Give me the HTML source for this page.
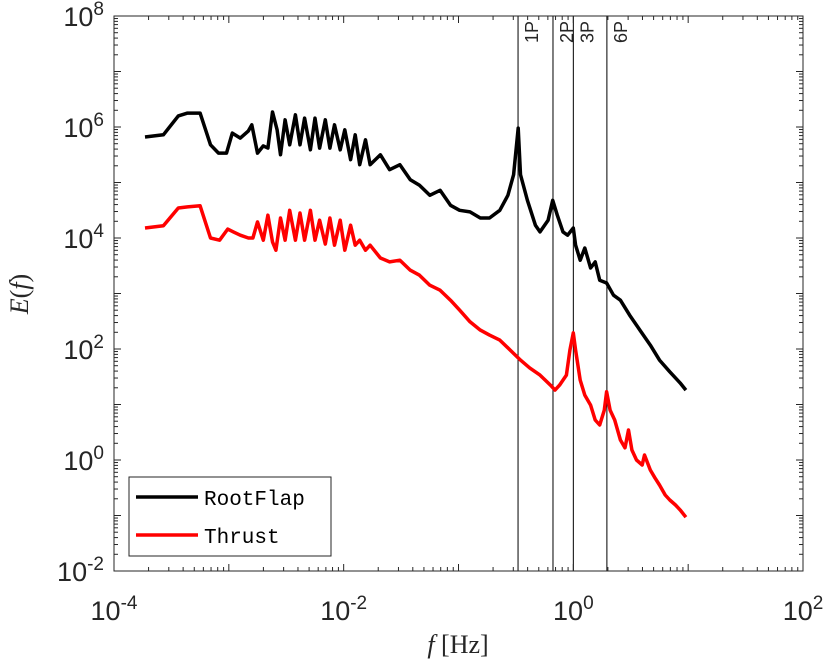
<!DOCTYPE html>
<html><head><meta charset="utf-8"><style>
body{margin:0;background:#fff;}
svg text{font-family:"Liberation Sans",sans-serif;fill:#262626;}
</style></head><body>
<svg id="chart" width="827" height="663" viewBox="0 0 827 663" xmlns="http://www.w3.org/2000/svg">
<g id="axes"></g>
<g id="series"></g>
<g id="legend">
<rect x="129" y="477" width="202" height="79" fill="#fff" stroke="#262626" stroke-width="1"/>
<line x1="136" y1="497" x2="198" y2="497" stroke="#000" stroke-width="3.5"/>
<text x="204" y="505" font-size="21" style="font-family:'Liberation Mono',monospace;fill:#000">RootFlap</text>
<line x1="136" y1="535" x2="198" y2="535" stroke="#f00" stroke-width="3.5"/>
<text x="204" y="543" font-size="21" style="font-family:'Liberation Mono',monospace;fill:#000">Thrust</text>
</g>
<text x="458" y="653" text-anchor="middle" font-size="26" style="font-family:'Liberation Serif',serif"><tspan font-style="italic">f</tspan> [Hz]</text>
<text transform="translate(28,294) rotate(-90)" text-anchor="middle" font-size="26" style="font-family:'Liberation Serif',serif"><tspan font-style="italic">E</tspan>(<tspan font-style="italic">f</tspan>)</text>
</svg>
<script>
const log10Freq = [-3.73,-3.57,-3.44,-3.36,-3.25,-3.16,-3.09,-3.02,-2.97,-2.90,-2.83,-2.80,-2.75,-2.70,-2.66,-2.62,-2.58,-2.55,-2.51,-2.47,-2.42,-2.38,-2.34,-2.29,-2.25,-2.21,-2.16,-2.12,-2.08,-2.03,-1.99,-1.94,-1.90,-1.86,-1.81,-1.77,-1.68,-1.60,-1.51,-1.42,-1.34,-1.25,-1.16,-1.07,-0.99,-0.90,-0.81,-0.73,-0.64,-0.57,-0.52,-0.48,-0.46,-0.40,-0.33,-0.29,-0.22,-0.18,-0.14,-0.09,-0.05,0.00,0.02,0.06,0.10,0.15,0.19,0.23,0.29,0.35,0.41,0.49,0.58,0.67,0.75,0.84,0.93,0.98];
const log10RootFlap = [5.82,5.86,6.20,6.25,6.25,5.68,5.53,5.53,5.89,5.80,5.93,6.04,5.53,5.66,5.62,6.27,5.95,5.50,6.13,5.68,6.22,5.68,6.16,5.59,6.16,5.62,6.13,5.62,6.04,5.59,5.95,5.41,5.86,5.32,5.77,5.32,5.50,5.23,5.32,5.05,4.95,4.77,4.86,4.59,4.50,4.47,4.36,4.36,4.50,4.77,5.14,5.98,5.14,4.68,4.23,4.11,4.32,4.68,4.41,4.11,4.05,4.18,3.87,3.60,3.82,3.46,3.57,3.24,3.19,2.97,2.88,2.61,2.34,2.07,1.80,1.59,1.39,1.26];
const log10FreqThrust = [-3.73,-3.57,-3.44,-3.36,-3.25,-3.16,-3.08,-3.01,-2.96,-2.90,-2.83,-2.79,-2.75,-2.70,-2.66,-2.62,-2.59,-2.55,-2.51,-2.47,-2.42,-2.38,-2.34,-2.29,-2.25,-2.21,-2.16,-2.12,-2.08,-2.03,-1.99,-1.94,-1.90,-1.86,-1.81,-1.77,-1.68,-1.60,-1.51,-1.42,-1.34,-1.25,-1.16,-1.07,-0.99,-0.90,-0.81,-0.73,-0.64,-0.55,-0.46,-0.38,-0.29,-0.20,-0.16,-0.12,-0.06,-0.03,0.00,0.02,0.06,0.10,0.15,0.19,0.23,0.27,0.29,0.32,0.36,0.41,0.45,0.48,0.51,0.55,0.60,0.62,0.67,0.71,0.75,0.80,0.84,0.89,0.93,0.98];
const log10Thrust = [4.18,4.22,4.54,4.56,4.58,4.00,3.96,4.16,4.11,4.05,4.00,4.00,4.29,3.96,4.41,3.93,3.78,4.36,3.96,4.50,3.96,4.45,3.96,4.50,3.96,4.32,3.89,4.36,3.87,4.32,3.78,4.23,3.87,3.96,3.78,3.87,3.64,3.57,3.60,3.42,3.33,3.15,3.06,2.88,2.70,2.49,2.34,2.25,2.16,1.98,1.80,1.66,1.53,1.35,1.26,1.35,1.53,1.98,2.29,1.98,1.44,1.17,0.99,0.72,0.63,0.90,1.23,0.90,0.72,0.36,0.22,0.54,0.18,0.00,-0.09,0.09,-0.18,-0.32,-0.45,-0.63,-0.72,-0.81,-0.90,-1.03];
const harmonicLabels = ["1P","2P","3P","6P"];
const harmonicFreqs = [0.33,0.665,1.0,1.96];
const xTickExps = [-4,-2,0,2];
const yTickExps = [-2,0,2,4,6,8];

const NS="http://www.w3.org/2000/svg";
const L=114,R=803,T=16,B=571;
const xMin=-4,xMax=2,yMin=-2,yMax=8;
function xs(lf){return L+(lf-xMin)/(xMax-xMin)*(R-L);}
function ys(le){return B-(le-yMin)/(yMax-yMin)*(B-T);}
function mk(tag,attrs,parent){const e=document.createElementNS(NS,tag);for(const k in attrs)e.setAttribute(k,attrs[k]);parent.appendChild(e);return e;}
const axes=document.getElementById('axes'),series=document.getElementById('series');

harmonicFreqs.forEach((f,i)=>{
  const x=xs(Math.log10(f));
  const ln=mk('line',{x1:x,y1:T,x2:x,y2:B,stroke:'#000','stroke-width':1},axes);
  
  
  const t=mk('text',{transform:`translate(${x+20},${T+5}) rotate(-90)`,'text-anchor':'end','font-size':18},axes);
  t.textContent=harmonicLabels[i];
  
  
});

const box=mk('rect',{x:L,y:T,width:R-L,height:B-T,fill:'none',stroke:'#262626','stroke-width':1},axes);



for(let d=xMin;d<xMax;d++){for(let m=1;m<10;m++){const x=xs(d+Math.log10(m));const len=m===1?7:4;
  mk('line',{x1:x,y1:B,x2:x,y2:B-len,stroke:'#262626','stroke-width':1},axes);
  mk('line',{x1:x,y1:T,x2:x,y2:T+len,stroke:'#262626','stroke-width':1},axes);}}
for(let d=yMin;d<yMax;d++){for(let m=1;m<10;m++){const y=ys(d+Math.log10(m));const len=m===1?7:4;
  mk('line',{x1:L,y1:y,x2:L+len,y2:y,stroke:'#262626','stroke-width':1},axes);
  mk('line',{x1:R,y1:y,x2:R-len,y2:y,stroke:'#262626','stroke-width':1},axes);}}
xTickExps.forEach(e=>{
  const t=mk('text',{x:xs(e),y:620,'text-anchor':'middle','font-size':27},axes);
  t.innerHTML='10<tspan dy="-11" font-size="19">'+e+'</tspan>';
  
  
});
yTickExps.forEach(e=>{
  const t=mk('text',{x:104,y:ys(e)+10,'text-anchor':'end','font-size':27},axes);
  t.innerHTML='10<tspan dy="-11" font-size="19">'+e+'</tspan>';
  
  
});

function path(fx,fy,color,name){
  const d=fx.map((v,i)=>(i?'L':'M')+xs(v).toFixed(1)+','+ys(fy[i]).toFixed(1)).join('');
  const p=mk('path',{d:d,fill:'none',stroke:color,'stroke-width':3.5,'stroke-linejoin':'round'},series);
  
  
}
path(log10Freq,log10RootFlap,'#000','rootflap-line');
path(log10FreqThrust,log10Thrust,'#f00','thrust-line');
</script>
</body></html>
